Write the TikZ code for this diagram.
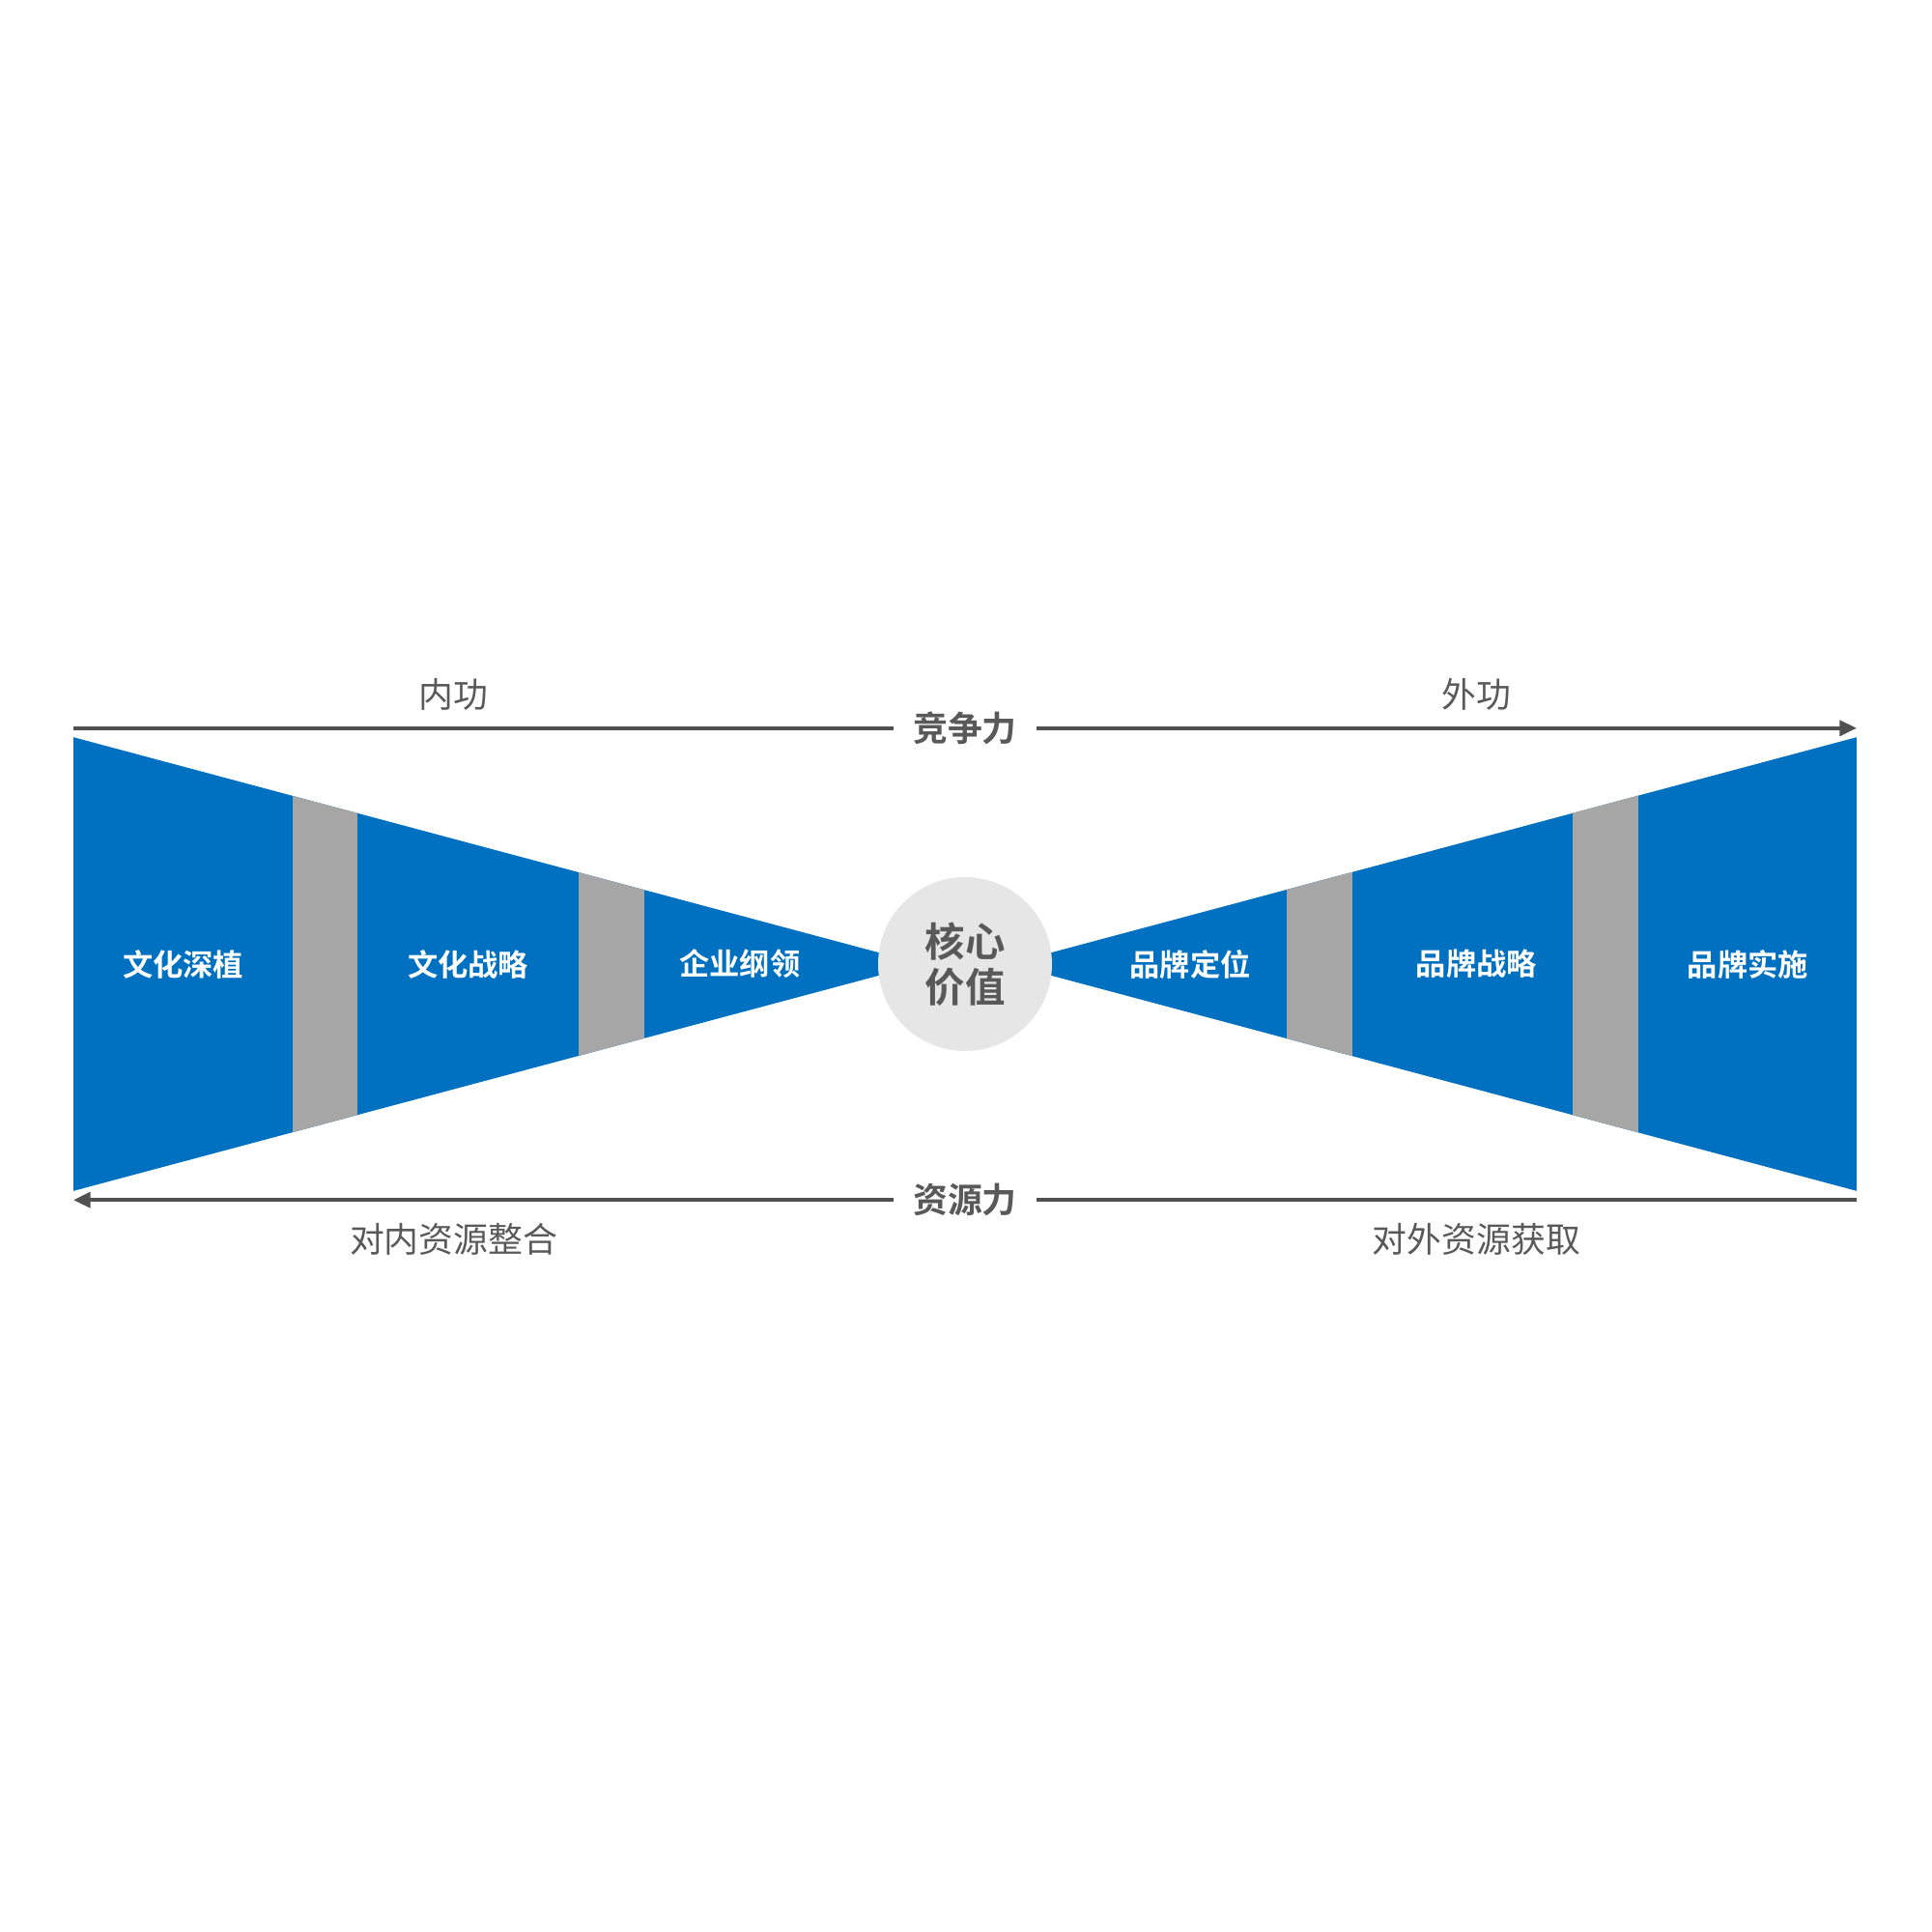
\documentclass[tikz,border=0pt]{standalone}
\usepackage{fontspec}
\usepackage{tikz}
\usetikzlibrary{arrows.meta}
\newfontfamily\cjk[BoldFont={Noto Sans CJK SC Bold}]{Noto Sans CJK SC}
\definecolor{bowblue}{HTML}{0070C0}
\definecolor{bowgray}{HTML}{A6A6A6}
\definecolor{hubgray}{HTML}{E6E6E6}
\definecolor{txtgray}{HTML}{595959}
\definecolor{linegray}{HTML}{505050}

\begin{document}
\begin{tikzpicture}[scale=0.9968,
		bandlabel/.style={text=white, font=\cjk\bfseries\fontsize{8.9}{10}\selectfont},
		sidelabel/.style={text=txtgray, font=\cjk\fontsize{10.2}{12}\selectfont},
		axislabel/.style={text=txtgray, font=\cjk\bfseries\fontsize{10.2}{12}\selectfont, inner sep=0pt},
		axisline/.style={draw=linegray, line width=1.1pt},
		axisarrow/.style={axisline, -{Triangle[length=5pt, width=4.5pt]}}]
		\useasboundingbox (-10.022,-10.052) rectangle (10.042,10.012);
		% left funnel
		\begin{scope}
			\clip (-9.26,2.356) -- (-0.45,0) -- (-9.26,-2.356) -- cycle;
			\fill[bowblue] (-9.26,-2.4) rectangle (-0.45,2.4);
			\fill[bowgray] (-6.98,-2.4) rectangle (-6.31,2.4);
			\fill[bowgray] (-4.01,-2.4) rectangle (-3.33,2.4);
		\end{scope}
		% right funnel
		\begin{scope}
			\clip (9.26,2.356) -- (0.45,0) -- (9.26,-2.356) -- cycle;
			\fill[bowblue] (0.45,-2.4) rectangle (9.26,2.4);
			\fill[bowgray] (3.34,-2.4) rectangle (4.02,2.4);
			\fill[bowgray] (6.31,-2.4) rectangle (6.99,2.4);
		\end{scope}
		\node[circle, fill=hubgray, minimum size=1.8cm, align=center, text=txtgray,
			font=\cjk\bfseries\fontsize{11.8}{13.4}\selectfont] (core) at (0,0) {核心\\价值};
		\node[bandlabel] (deep) at (-8.12,0) {文化深植};
		\node[bandlabel] (cstrat) at (-5.16,0) {文化战略};
		\node[bandlabel] (charter) at (-2.34,0) {企业纲领};
		\node[bandlabel] (bpos) at (2.34,0) {品牌定位};
		\node[bandlabel] (bstrat) at (5.31,0) {品牌战略};
		\node[bandlabel] (bdo) at (8.13,0) {品牌实施};
		% competitiveness axis
		\node[axislabel] (comp) at (0,2.45) {竞争力};
		\coordinate (compL) at (-9.26,2.45);
		\coordinate (compR) at (9.26,2.45);
		\draw[axisline] (compL) -- ([xshift=-0.2cm]comp.west);
		\draw[axisarrow] ([xshift=0.2cm]comp.east) -- (compR);
		\node[sidelabel] (inner) at (-5.31,2.80) {内功};
		\node[sidelabel] (outer) at (5.31,2.80) {外功};
		% resource axis
		\node[axislabel] (res) at (0,-2.45) {资源力};
		\coordinate (resL) at (-9.26,-2.45);
		\coordinate (resR) at (9.26,-2.45);
		\draw[axisarrow] ([xshift=-0.2cm]res.west) -- (resL);
		\draw[axisline] ([xshift=0.2cm]res.east) -- (resR);
		\node[sidelabel] (inres) at (-5.31,-2.855) {对内资源整合};
		\node[sidelabel] (outres) at (5.31,-2.855) {对外资源获取};
	\end{tikzpicture}
\end{document}
